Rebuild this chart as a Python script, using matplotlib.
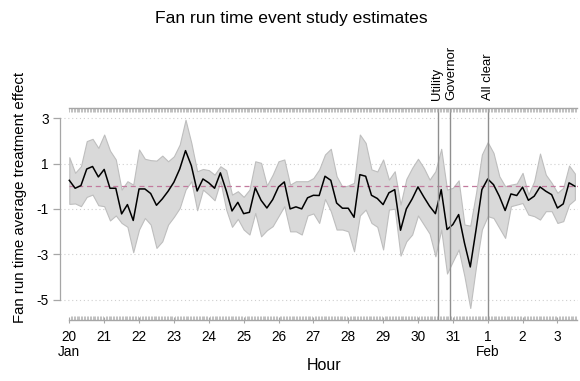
import numpy as np
import matplotlib
matplotlib.use("Agg")
from matplotlib import pyplot as plt
from matplotlib import transforms

plt.rcParams['font.family'] = ['Liberation Sans', 'DejaVu Sans']

# estimates every 4 hours starting 20 Jan 00:00
hours = np.arange(0, 352, 4)
est = [0.26, -0.09, 0.03, 0.76, 0.87, 0.41, 0.74, -0.09, -0.09, -1.22,
       -0.81, -1.51, -0.12, -0.12, -0.32, -0.84, -0.56, -0.22, 0.18, 0.76,
       1.57, 0.91, -0.21, 0.32, 0.15, -0.09, 0.59, -0.19, -1.09, -0.71,
       -1.21, -1.15, -0.07, -0.62, -0.96, -0.59, -0.03, 0.19, -1.00, -0.91,
       -1.00, -0.51, -0.40, -0.41, 0.44, 0.26, -0.74, -0.97, -0.97, -1.37,
       0.51, 0.44, -0.40, -0.54, -0.81, -0.29, -0.15, -1.94, -1.00, -0.56,
       -0.03, -0.47, -0.88, -1.21, -0.15, -1.91, -1.69, -1.25, -2.50, -3.56,
       -1.91, -0.15, 0.32, 0.07, -0.44, -1.07, -0.34, -0.41, -0.04, -0.62,
       -0.44, -0.03, -0.22, -0.37, -0.96, -0.78, 0.15, 0.00]
upper = [1.28, 0.59, 0.88, 1.99, 2.09, 1.69, 2.28, 1.57, 1.18, -0.15,
         0.22, 0.07, 1.62, 1.21, 1.15, 1.13, 1.35, 1.10, 1.32, 1.84,
         2.93, 1.91, 0.66, 0.76, 0.71, 0.51, 0.88, 0.71, -0.37, -0.22,
         -0.47, -0.15, 1.10, 1.03, 0.03, 0.51, 1.10, 1.18, 0.07, 0.22,
         0.22, 0.22, 0.36, 0.74, 1.40, 1.65, 0.44, -0.03, 0.03, 0.15,
         2.28, 1.91, 0.74, 0.65, 1.18, 0.29, 0.66, -0.81, 0.32, 0.81,
         1.21, 0.81, 0.29, 0.66, 1.65, -0.15, -0.07, 0.26, -1.69, -1.74,
         -0.29, 1.40, 1.94, 1.47, 0.44, 0.00, 0.07, 0.12, 0.59, -0.37,
         0.22, 1.44, 0.51, 0.15, -0.29, -0.07, 0.91, 0.56]
lower = [-0.78, -0.76, -0.88, -0.47, -0.37, -0.84, -0.88, -1.51, -1.29, -1.62,
         -1.79, -2.91, -1.91, -1.40, -1.69, -2.72, -2.43, -1.69, -1.35, -0.96,
         -0.15, 0.22, -1.06, -0.15, -0.37, -0.62, 0.22, -1.03, -1.79, -1.44,
         -1.91, -2.13, -1.18, -2.21, -1.94, -1.76, -1.32, -0.88, -1.99, -1.99,
         -2.13, -1.29, -1.20, -1.62, -0.56, -1.10, -1.91, -1.91, -1.99, -2.87,
         -1.29, -1.03, -1.62, -1.79, -2.79, -1.03, -0.99, -3.06, -2.43, -2.13,
         -1.29, -1.69, -2.09, -3.09, -1.91, -3.85, -3.31, -2.79, -3.97, -5.37,
         -3.53, -1.91, -1.32, -1.40, -1.84, -2.28, -0.88, -0.81, -0.74, -1.25,
         -1.32, -1.47, -1.10, -1.10, -1.62, -1.54, -0.81, -0.59]

day_labels = ["20\nJan", "21", "22", "23", "24", "25", "26", "27", "28",
              "29", "30", "31", "1\nFeb", "2", "3"]
yticks = [3, 1, -1, -3, -5]
event_hours = [254, 262, 288]
event_labels = ["Utility", "Governor", "All clear"]

x = hours / 24.0
band_gray = '#a6a6a6'

fig = plt.figure(figsize=(5.8, 3.81), dpi=100)
ax = fig.add_axes([60 / 580, 1 - 320 / 381, 518 / 580, 212 / 381])
ax.set_xlim(-0.267, 14.59)
ax.set_ylim(-5.9, 3.45)

for yv in yticks:
    ax.axhline(yv, color='#cfcfcf', lw=0.8, ls=(0, (1, 2.5)), zorder=0)

ax.fill_between(x, lower, upper, facecolor='#d9d9d9', edgecolor='#bebebe',
                lw=0.8, zorder=1)
ax.hlines(0, 0, 14.59, colors='#c27a9e', lw=0.9, linestyles=(0, (4, 3)), zorder=2)
ax.plot(x, est, color='black', lw=1.1, zorder=3)

for h in event_hours:
    ax.axvline(h / 24.0, color='#8f8f8f', lw=1.0, zorder=4)

# event labels above the top band, nudged apart a little
nudges = [-1.4, 1.4, 0]
trans = transforms.blended_transform_factory(ax.transData, ax.transAxes)
for h, lab, dx in zip(event_hours, event_labels, nudges):
    off = transforms.ScaledTranslation(dx / 100, 0, fig.dpi_scale_trans)
    ax.text(h / 24.0, 1.036, lab, rotation=90, ha='center', va='bottom',
            fontsize=9.4, transform=trans + off, clip_on=False)

# axes styling
for s in ['top', 'right']:
    ax.spines[s].set_visible(False)
ax.spines['left'].set_bounds(-5, 3)
ax.spines['left'].set_color(band_gray)
ax.spines['left'].set_linewidth(0.9)
ax.spines['bottom'].set_bounds(0, 14.56)
ax.spines['bottom'].set_color(band_gray)
ax.spines['bottom'].set_linewidth(1.0)

ax.set_yticks(yticks)
ax.set_yticklabels([str(v) for v in yticks])
ax.tick_params(axis='y', length=5, width=0.9, color=band_gray, pad=3,
               labelsize=9.8)

ax.set_xticks(np.arange(15))
ax.set_xticklabels(day_labels, linespacing=1.15)
ax.set_xticks(np.arange(0, 14.57, 1 / 24), minor=True)
ax.tick_params(axis='x', which='major', direction='inout', length=5,
               width=0.8, color=band_gray, pad=4.5, labelsize=9.8)
ax.tick_params(axis='x', which='minor', direction='in', length=3,
               width=0.5, color=band_gray)

# top axis with hourly ticks
ax2 = ax.twiny()
ax2.set_xlim(ax.get_xlim())
for s in ['bottom', 'left', 'right']:
    ax2.spines[s].set_visible(False)
ax2.spines['top'].set_bounds(0, 14.56)
ax2.spines['top'].set_color(band_gray)
ax2.spines['top'].set_linewidth(1.0)
ax2.set_xticks([])
ax2.set_xticks(np.arange(0, 14.57, 1 / 24), minor=True)
ax2.tick_params(axis='x', which='minor', direction='in', length=3,
                width=0.5, color=band_gray)

fig.text(20 / 580, 1 - 197 / 381, "Fan run time average treatment effect",
         rotation=90, ha='center', va='center', fontsize=10.8)
fig.text(324 / 580, 1 - 366 / 381, "Hour", ha='center', va='center',
         fontsize=11.5)
fig.text(291 / 580, 1 - 19 / 381, "Fan run time event study estimates",
         ha='center', va='center', fontsize=12.6)

fig.savefig("out.png", dpi=100)
